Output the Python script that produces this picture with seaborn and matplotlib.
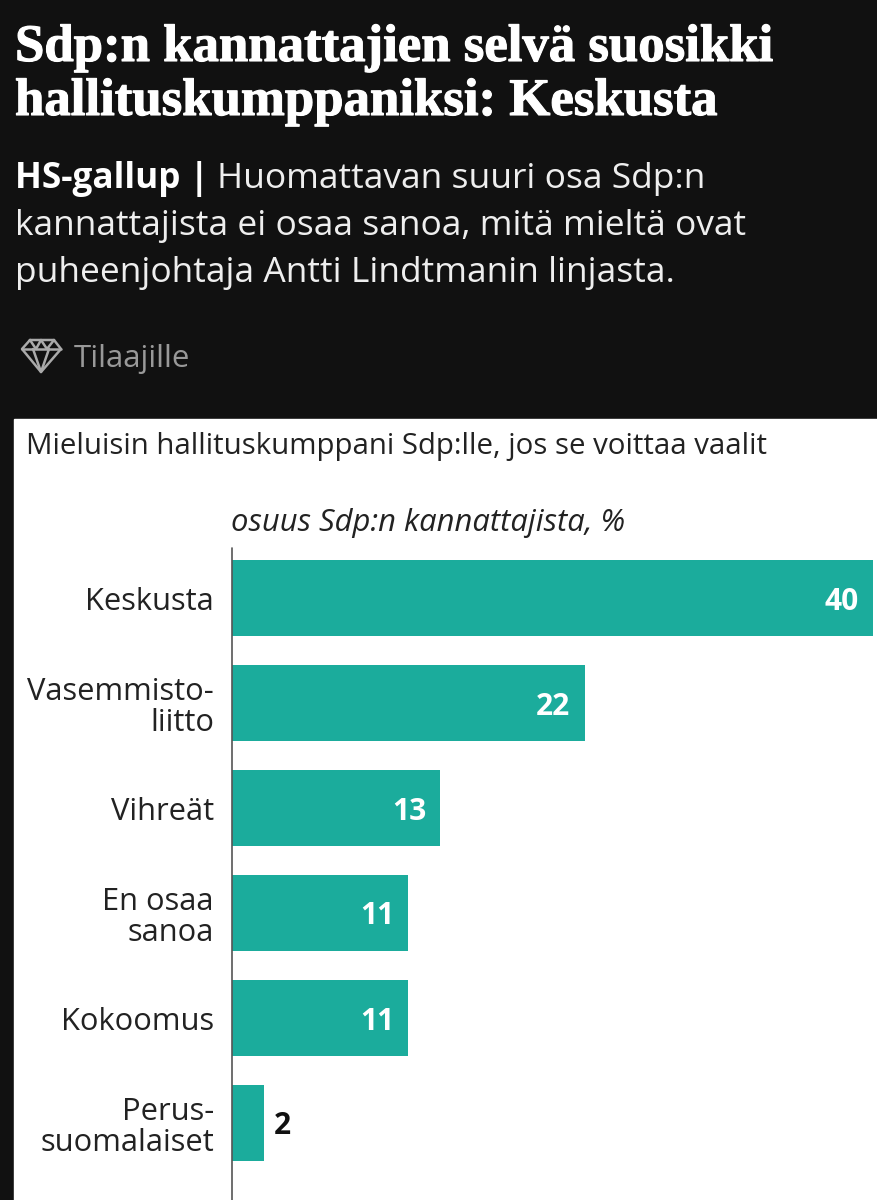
#!/usr/bin/env python3
import matplotlib
matplotlib.use("Agg")
import matplotlib.patheffects as pe
import matplotlib.pyplot as plt
from matplotlib.lines import Line2D
from matplotlib.patches import Rectangle
import pandas as pd
import seaborn as sns

# Chart data
categories = ["Keskusta", "Vasemmisto-\nliitto", "Vihreät", "En osaa\nsanoa", "Kokoomus",
              "Perus-\nsuomalaiset", "Jokin\nmuu"]
values = [40, 22, 13, 11, 11, 2, 0]

headline = ["Sdp:n kannattajien selvä suosikki", "hallituskumppaniksi: Keskusta"]
lead_bold = "HS-gallup |"
lead = ["Huomattavan suuri osa Sdp:n",
        "kannattajista ei osaa sanoa, mitä mieltä ovat",
        "puheenjohtaja Antti Lindtmanin linjasta."]
badge = "Tilaajille"
chart_title = "Mieluisin hallituskumppani Sdp:lle, jos se voittaa vaalit"
axis_note = "osuus Sdp:n kannattajista, %"

W, H = 878, 1200
BG = "#111111"
TEAL = "#1bac9c"
INK = "#222222"

df = pd.DataFrame({"category": categories, "value": values})

sns.set_theme(style="white")
plt.rcParams["font.family"] = ["Open Sans", "DejaVu Sans"]

fig = plt.figure(figsize=(W / 100, H / 100), dpi=100, facecolor=BG)


def px_text(x, y, s, **kw):
    # place text by pixel position from the top-left corner
    return fig.text(x / W, 1 - y / H, s, va="baseline", ha="left", **kw)


# white card behind the chart
fig.add_artist(Rectangle((14 / W, 0), (W - 14) / W, (H - 419) / H,
                         transform=fig.transFigure, color="white", zorder=-1))

# x axis: 0 at 232px, 40 at 873px; each category band is 105px, first centred at 598px
AX_TOP = 548
ax = fig.add_axes([232 / W, 0, (W - 232) / W, (H - AX_TOP) / H], zorder=2)
ax.patch.set_alpha(0)
sns.barplot(data=df, x="value", y="category", color=TEAL, saturation=1, width=0.724,
            linewidth=0, ax=ax)

px_per_unit = (873 - 232) / 40
ax.set_xlabel("")
ax.set_ylabel("")
ax.set_xticks([])
ax.set_yticks(range(len(categories)))
ax.set_yticklabels(categories, fontsize=22.2, color=INK, linespacing=1.06, ha="right")
ax.set_xlim(0, (W - 232) / px_per_unit)
top = -(598 - AX_TOP) / 105
ax.set_ylim(top + (H - AX_TOP) / 105, top)
ax.tick_params(axis="y", length=0, pad=13)
sns.despine(ax=ax, left=True, right=True, top=True, bottom=True)
ax.axvline(0, color="#555555", lw=1.2, zorder=5, clip_on=False)

for i, v in enumerate(values):
    if v >= 5:
        ax.text(v - 14 / px_per_unit, i, str(v), ha="right", va="center_baseline",
                color="white", fontsize=21.5, fontweight="bold")
    elif v > 0:
        ax.text(v + 10 / px_per_unit, i, str(v), ha="left", va="center_baseline",
                color="#111111", fontsize=21.5, fontweight="bold")

# header texts
serif = ["Liberation Serif", "DejaVu Serif"]
for y, line in zip([61, 115], headline):
    t = px_text(15, y, line, fontsize=38, fontweight="bold", family=serif, color="white")
    t.set_path_effects([pe.withStroke(linewidth=0.8, foreground="white")])
px_text(15, 188, lead_bold, fontsize=25.3, fontweight="bold", color="white")
px_text(217, 188, lead[0], fontsize=25.5, color="#eeeeee")
px_text(15, 235, lead[1], fontsize=25.5, color="#eeeeee")
px_text(15, 282, lead[2], fontsize=25.5, color="#eeeeee")
px_text(74, 367, badge, fontsize=22.5, color="#999999")
px_text(26, 454, chart_title, fontsize=21.2, color=INK)
px_text(231, 531, axis_note, fontsize=22.3, style="italic", color=INK)

# diamond icon next to the badge
icon = [
    ([30, 54, 61, 41, 22, 30], [340, 340, 349, 372, 349, 340]),
    ([22, 61], [349, 349]),
    ([33, 41, 49], [349, 372, 349]),
    ([30, 36, 41, 47, 54], [340, 349, 340, 349, 340]),
]
for xs, ys in icon:
    fig.add_artist(Line2D([x / W for x in xs], [1 - y / H for y in ys],
                          transform=fig.transFigure, color="#aaaaaa", lw=1.8))

plt.savefig("out.png", dpi=100, facecolor=fig.get_facecolor())
